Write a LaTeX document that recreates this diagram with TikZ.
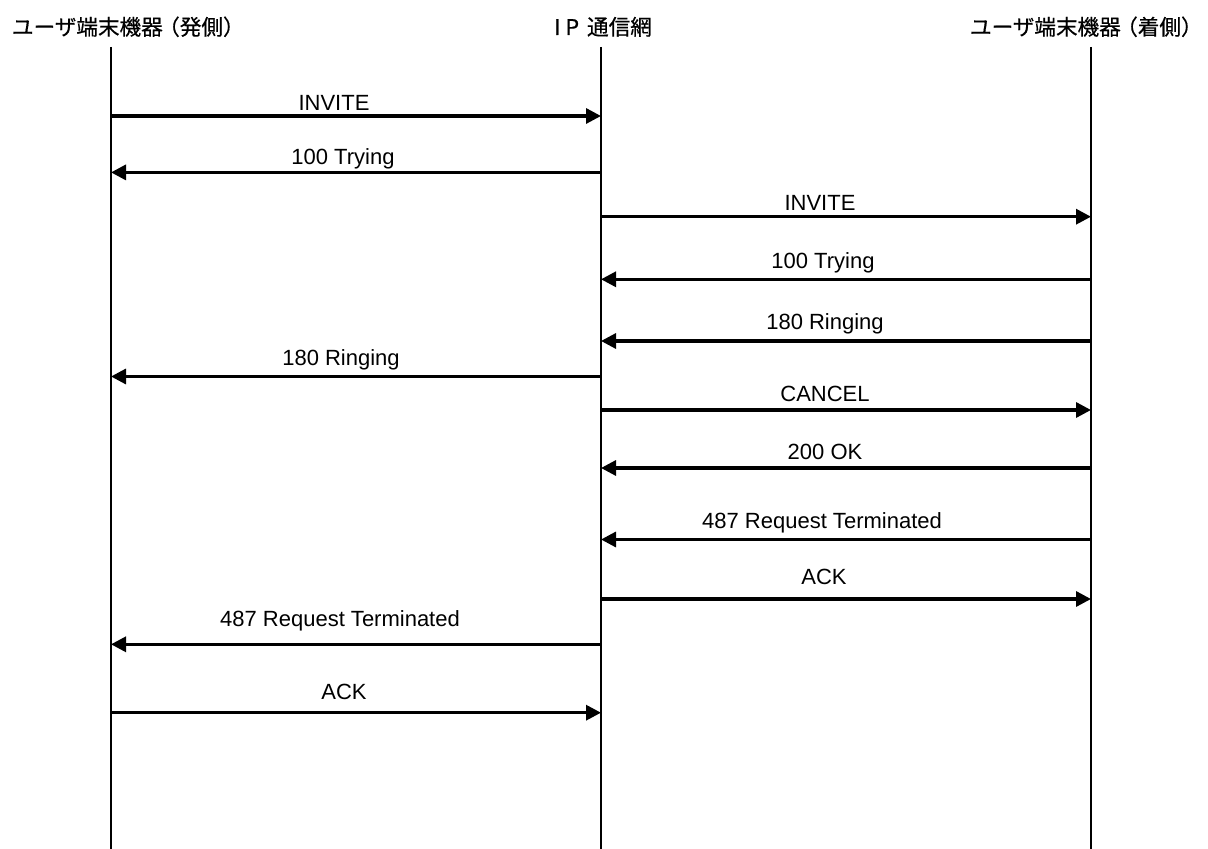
\documentclass[tikz,border=0pt]{standalone}
\usepackage{fontspec}
\setmainfont{Liberation Sans}
\newfontfamily\jpfont[FakeBold=0.5]{Noto Sans CJK JP}
\usetikzlibrary{arrows.meta}

\tikzset{
  lifeline/.style={line width=0.65pt},
  msg/.style={line width=1.6pt, -{Triangle[length=7.5pt,width=7.5pt]}},
  lbl/.style={anchor=base, inner sep=0pt, font=\fontsize{11pt}{13pt}\selectfont},
  hdr/.style={anchor=base, inner sep=0pt, font=\jpfont\fontsize{10.8pt}{13pt}\selectfont}
}
\newcommand{\lpa}{\makebox[8.5pt][r]{（}}
\newcommand{\rpa}{\makebox[8.5pt][l]{）}}

\begin{document}
\begin{tikzpicture}[x=0.5pt, y=-0.5pt]
  \useasboundingbox (0,0) rectangle (1208,849);

  \coordinate (ua) at (111,0);
  \coordinate (ip) at (601,0);
  \coordinate (ub) at (1091,0);

  \node[hdr] (hua) at (126,35) {ユーザ端末機器\lpa 発側\rpa};
  \node[hdr] (hip) at (603,35) {I\hspace{2.5pt}P\hspace{4pt}通信網};
  \node[hdr] (hub) at (1084,35) {ユーザ端末機器\lpa 着側\rpa};

  \draw [lifeline] (ua |- 0,47) -- (ua |- 0,849);
  \draw [lifeline] (ip |- 0,47) -- (ip |- 0,849);
  \draw [lifeline] (ub |- 0,47) -- (ub |- 0,849);

  % ua <-> ip
  \draw [msg] (ua |- 0,116) -- (ip |- 0,116);
  \node[lbl] (m1) at (334,110.5) {INVITE};
  \draw [msg] (ip |- 0,172.4) -- (ua |- 0,172.4);
  \node[lbl] (m2) at (343,164.5) {100 Trying};

  % ip <-> ub
  \draw [msg] (ip |- 0,216.7) -- (ub |- 0,216.7);
  \node[lbl] (m3) at (820,211) {INVITE};
  \draw [msg] (ub |- 0,279.3) -- (ip |- 0,279.3);
  \node[lbl] (m4) at (823,268.3) {100 Trying};
  \draw [msg] (ub |- 0,341) -- (ip |- 0,341);
  \node[lbl] (m5) at (825,330) {180 Ringing};

  \draw [msg] (ip |- 0,376.5) -- (ua |- 0,376.5);
  \node[lbl] (m6) at (341,365.6) {180 Ringing};

  \draw [msg] (ip |- 0,410) -- (ub |- 0,410);
  \node[lbl] (m7) at (825,401.7) {CANCEL};
  \draw [msg] (ub |- 0,468) -- (ip |- 0,468);
  \node[lbl] (m8) at (825,459.3) {200 OK};
  \draw [msg] (ub |- 0,539.5) -- (ip |- 0,539.5);
  \node[lbl] (m9) at (822,528.3) {487 Request Terminated};
  \draw [msg] (ip |- 0,599) -- (ub |- 0,599);
  \node[lbl] (m10) at (824,584) {ACK};

  \draw [msg] (ip |- 0,644.3) -- (ua |- 0,644.3);
  \node[lbl] (m11) at (340,626.3) {487 Request Terminated};
  \draw [msg] (ua |- 0,712.7) -- (ip |- 0,712.7);
  \node[lbl] (m12) at (344,699.6) {ACK};
\end{tikzpicture}
\end{document}
